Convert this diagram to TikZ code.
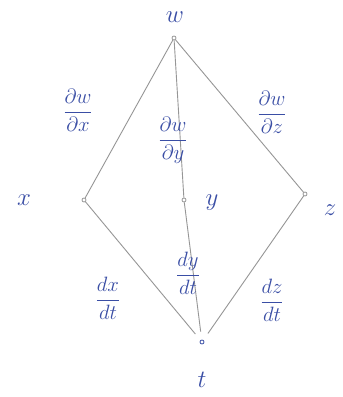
\documentclass[tikz,border=0pt]{standalone}
\begin{document}
\begin{tikzpicture}[x=1pt,y=-1pt,
  ink/.style={text=inkblue,font=\fontsize{26}{30}\selectfont},
  frac/.style={text=inkblue,font=\fontsize{22}{26}\selectfont,execute at begin node=$\displaystyle,execute at end node=$},
  pt/.style={circle,draw=inkgray,fill=white,inner sep=0pt,minimum size=4pt,line width=0.8pt},
  edge/.style={draw=inkgray,line width=0.9pt}]
\definecolor{inkblue}{RGB}{58,78,165}
\definecolor{inkgray}{RGB}{150,150,150}
\useasboundingbox (0,0) rectangle (343,397);
\fill[white] (0,0) rectangle (343,397);
\node[pt] (pw) at (174,38) {};
\node[pt] (px) at (84,200) {};
\node[pt] (py) at (184,200) {};
\node[pt] (pz) at (305,194) {};
\node[pt,draw=inkblue] (pt) at (202,342) {};
\node[ink] (lw) at (175,17) {$w$};
\node[ink] (lx) at (24,200) {$x$};
\node[ink] (ly) at (212,203) {$y$};
\node[ink] (lz) at (330,210) {$z$};
\node[ink] (lt) at (202,380) {$t$};
\draw[edge] (pw) -- (px);
\draw[edge] (pw) -- (py);
\draw[edge] (pw) -- (pz);
\draw[edge,shorten >=8pt] (px) -- (pt);
\draw[edge,shorten >=8pt] (py) -- (pt);
\draw[edge,shorten >=8pt] (pz) -- (pt);
\node[frac] (fwx) at (78,110) {\frac{\partial w}{\partial x}};
\node[frac] (fwy) at (173,140) {\frac{\partial w}{\partial y}};
\node[frac] (fwz) at (272,112) {\frac{\partial w}{\partial z}};
\node[frac] (fxt) at (108,298) {\frac{dx}{dt}};
\node[frac] (fyt) at (188,273) {\frac{dy}{dt}};
\node[frac] (fzt) at (272,300) {\frac{dz}{dt}};
\end{tikzpicture}
\end{document}
